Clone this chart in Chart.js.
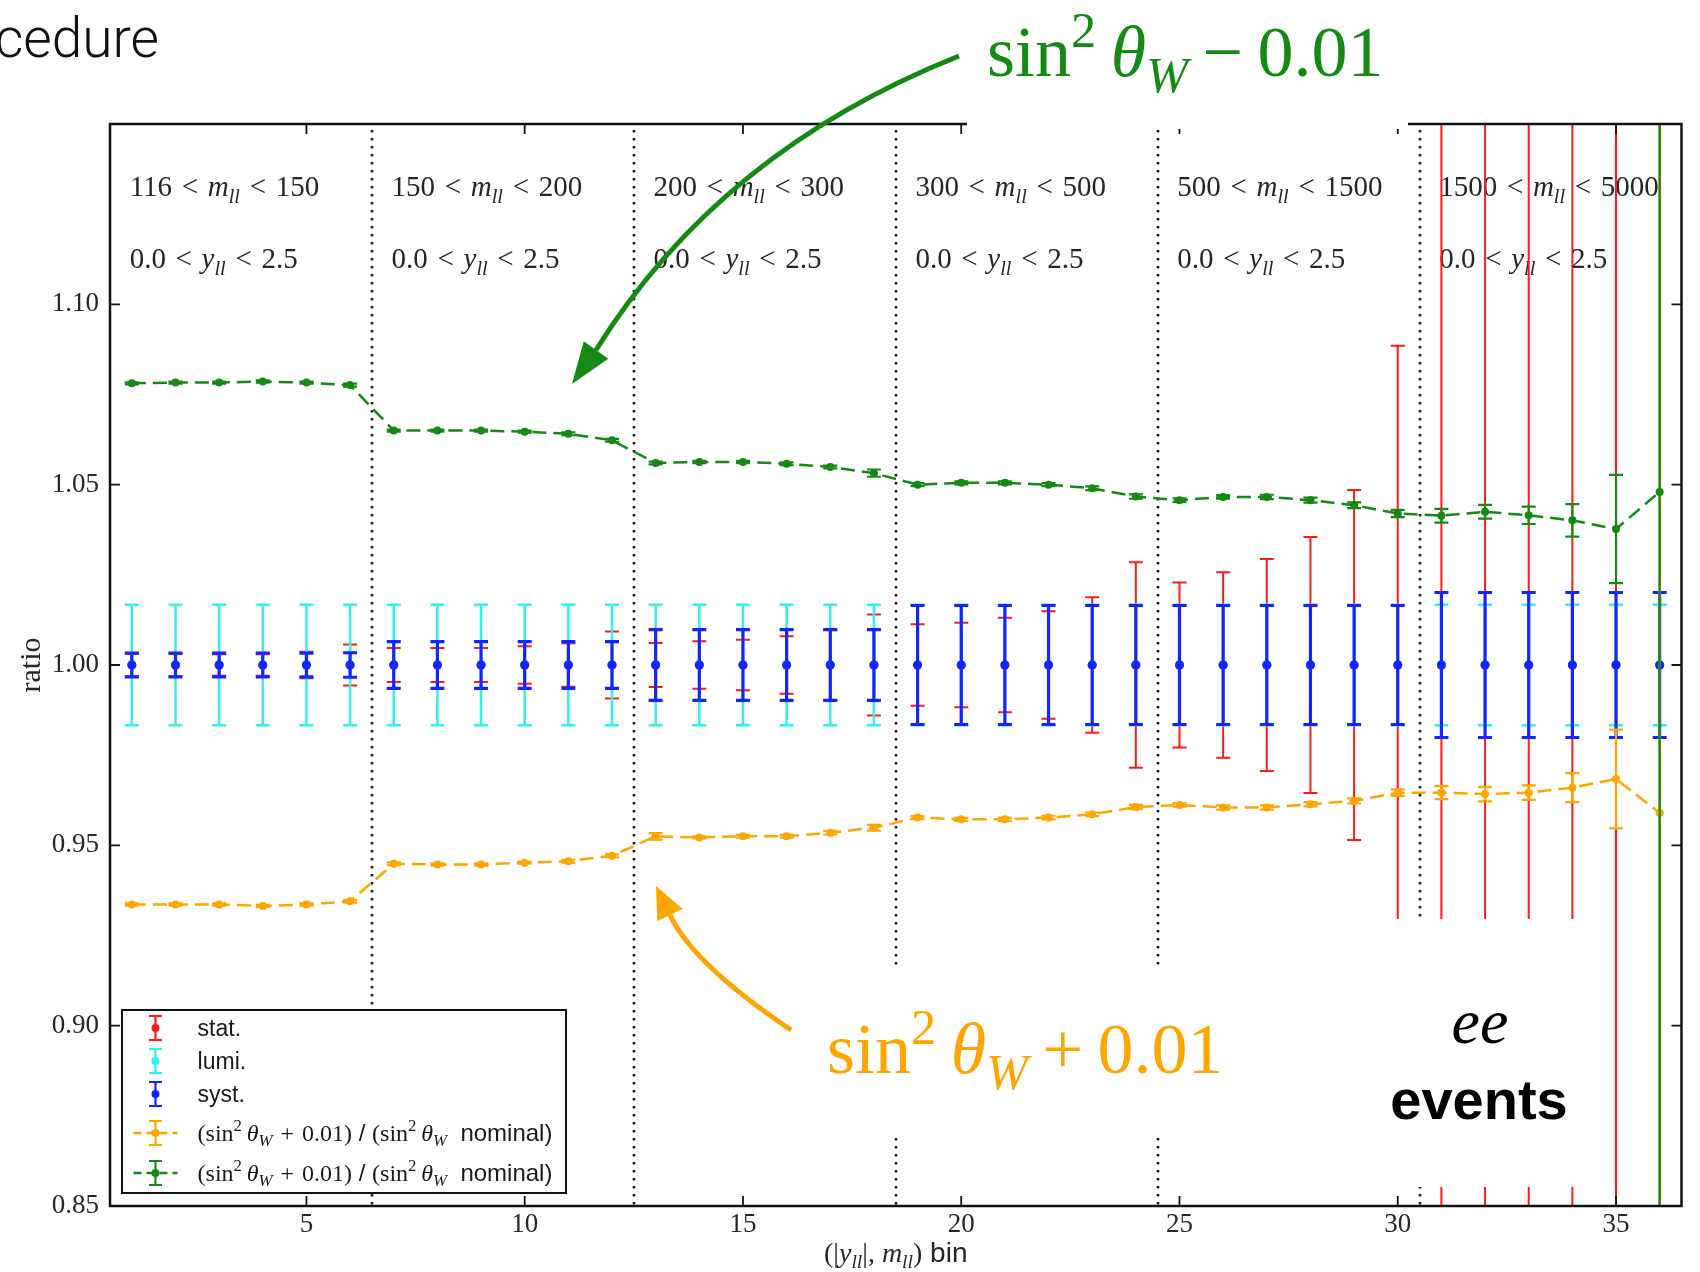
<!DOCTYPE html>
<html>
<head>
<meta charset="utf-8">
<title>ratio por bin (|yll|, mll)</title>
<script src="https://cdn.jsdelivr.net/npm/chart.js@4.4.1/dist/chart.umd.min.js"></script>
<style>
  html, body { margin: 0; padding: 0; background: #fff; }
  #wrap { width: 1700px; height: 1272px; }
</style>
</head>
<body>
<div id="wrap"><canvas id="chart" width="1700" height="1272"></canvas></div>
<script>
// --- Datos ---
const bins = [1, 2, 3, 4, 5, 6, 7, 8, 9, 10, 11, 12, 13, 14, 15, 16, 17, 18,
              19, 20, 21, 22, 23, 24, 25, 26, 27, 28, 29, 30, 31, 32, 33, 34, 35, 36];
const nominal = [1, 1, 1, 1, 1, 1, 1, 1, 1, 1, 1, 1, 1, 1, 1, 1, 1, 1,
                 1, 1, 1, 1, 1, 1, 1, 1, 1, 1, 1, 1, 1, 1, 1, 1, 1, 1];
const statErr = [0.0031, 0.0031, 0.0030, 0.0030, 0.0037, 0.0057,
                 0.0047, 0.0047, 0.0047, 0.0052, 0.0060, 0.0093,
                 0.0061, 0.0066, 0.0070, 0.0080, 0.0097, 0.0140,
                 0.0113, 0.0117, 0.0131, 0.0149, 0.0188, 0.0285,
                 0.0229, 0.0257, 0.0294, 0.0355, 0.0485, 0.0885,
                 0.30, 0.30, 0.30, 0.30, 0.30, 0.30];
const lumiErr = [0.0167, 0.0167, 0.0167, 0.0167, 0.0167, 0.0167,
                 0.0167, 0.0167, 0.0167, 0.0167, 0.0167, 0.0167,
                 0.0167, 0.0167, 0.0167, 0.0167, 0.0167, 0.0167,
                 0.0167, 0.0167, 0.0167, 0.0167, 0.0167, 0.0167,
                 0.0167, 0.0167, 0.0167, 0.0167, 0.0167, 0.0167,
                 0.0167, 0.0167, 0.0167, 0.0167, 0.0167, 0.0167];
const systErr = [0.0033, 0.0033, 0.0033, 0.0033, 0.0033, 0.0034,
                 0.0065, 0.0065, 0.0065, 0.0065, 0.0065, 0.0065,
                 0.0098, 0.0098, 0.0098, 0.0098, 0.0098, 0.0098,
                 0.0165, 0.0165, 0.0165, 0.0165, 0.0165, 0.0165,
                 0.0165, 0.0165, 0.0165, 0.0165, 0.0165, 0.0165,
                 0.0201, 0.0201, 0.0201, 0.0201, 0.0201, 0.0201];
// sin^2 thetaW + 0.01 (naranja)
const plusRatio = [0.9336, 0.9336, 0.9336, 0.9332, 0.9336, 0.9345,
                   0.9449, 0.9447, 0.9447, 0.9452, 0.9456, 0.9471,
                   0.9525, 0.9522, 0.9525, 0.9525, 0.9535, 0.9549,
                   0.9577, 0.9572, 0.9572, 0.9577, 0.9586, 0.9606,
                   0.9612, 0.9605, 0.9605, 0.9614, 0.9623, 0.9646,
                   0.9646, 0.9642, 0.9646, 0.9660, 0.9684, 0.9590];
const plusErr = [0.0003, 0.0003, 0.0003, 0.0003, 0.0003, 0.0004,
                 0.0004, 0.0003, 0.0003, 0.0003, 0.0004, 0.0004,
                 0.0009, 0.0003, 0.0004, 0.0004, 0.0005, 0.0008,
                 0.0004, 0.0004, 0.0004, 0.0005, 0.0005, 0.0006,
                 0.0005, 0.0006, 0.0006, 0.0006, 0.0007, 0.0009,
                 0.0018, 0.0020, 0.0020, 0.0040, 0.0137, 0.30];
// sin^2 thetaW - 0.01 (verde)
const minusRatio = [1.0781, 1.0783, 1.0783, 1.0786, 1.0783, 1.0776,
                    1.0650, 1.0650, 1.0650, 1.0647, 1.0641, 1.0623,
                    1.0560, 1.0563, 1.0563, 1.0558, 1.0549, 1.0532,
                    1.0500, 1.0505, 1.0505, 1.0500, 1.0490, 1.0467,
                    1.0457, 1.0466, 1.0466, 1.0457, 1.0443, 1.0420,
                    1.0414, 1.0425, 1.0415, 1.0401, 1.0377, 1.0480];
const minusErr = [0.0003, 0.0003, 0.0003, 0.0003, 0.0003, 0.0004,
                  0.0003, 0.0003, 0.0003, 0.0003, 0.0004, 0.0004,
                  0.0004, 0.0003, 0.0003, 0.0004, 0.0004, 0.0010,
                  0.0004, 0.0004, 0.0004, 0.0004, 0.0005, 0.0006,
                  0.0005, 0.0005, 0.0006, 0.0007, 0.0008, 0.0010,
                  0.0019, 0.0019, 0.0024, 0.0045, 0.0150, 0.30];
const xTicks = [5, 10, 15, 20, 25, 30, 35];
const yTicks = [0.85, 0.90, 0.95, 1.00, 1.05, 1.10];
const regionEdges = [6.5, 12.5, 18.5, 24.5, 30.5];
const regionStarts = [1, 7, 13, 19, 25, 31];
const massRanges = [['116', '150'], ['150', '200'], ['200', '300'],
                    ['300', '500'], ['500', '1500'], ['1500', '5000']];
const rapRange = ['0.0', '2.5'];

// --- Estilos ---
const SERIF = '"Liberation Serif", "Times New Roman", serif';
const SANS = '"Liberation Sans", Arial, sans-serif';
const RED = '#ff1a1a', CYAN = '#30f0f0', BLUE = '#1424ff', ORANGE = '#ffa500', GREEN = '#148a14';
const REL = '\u2004<\u2004';

// texto con cursiva / subíndice / superíndice
function partFont(st, size) {
    const small = st.includes('b') || st.includes('p');
    const sz = small ? size * 0.7 : size;
    return (st.includes('i') ? 'italic ' : '') + (st.includes('B') ? 'bold ' : '') +
        sz.toFixed(1) + 'px ' + (st.includes('s') ? SANS : SERIF);
}

function drawRich(ctx, parts, x, y, size, align) {
    let w = 0;
    parts.forEach(([t, st = '']) => { ctx.font = partFont(st, size); w += ctx.measureText(t).width; });
    let cx = align === 'center' ? x - w / 2 : align === 'right' ? x - w : x;
    ctx.textAlign = 'left';
    ctx.textBaseline = 'alphabetic';
    parts.forEach(([t, st = '']) => {
        ctx.font = partFont(st, size);
        const dy = st.includes('b') ? size * 0.22 : st.includes('p') ? -size * 0.4 : 0;
        ctx.fillText(t, cx, y + dy);
        cx += ctx.measureText(t).width;
    });
}

function pts(ys) { return bins.map((b, i) => ({ x: b, y: ys[i] })); }

function drawErrors(chart, ds) {
    const { ctx, chartArea: a } = chart;
    const sx = chart.scales.x, sy = chart.scales.y;
    const ys = ds.data;
    ctx.save();
    ctx.beginPath();
    ctx.rect(a.left, a.top, a.right - a.left, a.bottom - a.top);
    ctx.clip();
    ctx.strokeStyle = ds.errColor;
    ctx.lineWidth = ds.errWidth;
    ds.errors.forEach((e, i) => {
        const px = sx.getPixelForValue(ys[i].x);
        const top = sy.getPixelForValue(ys[i].y + e);
        const bot = sy.getPixelForValue(ys[i].y - e);
        ctx.beginPath();
        ctx.moveTo(px, top); ctx.lineTo(px, bot);
        ctx.moveTo(px - 7, top); ctx.lineTo(px + 7, top);
        ctx.moveTo(px - 7, bot); ctx.lineTo(px + 7, bot);
        ctx.stroke();
    });
    ctx.restore();
}

function drawArrow(ctx, a) {
    ctx.save();
    ctx.strokeStyle = a.color;
    ctx.fillStyle = a.color;
    ctx.lineWidth = a.width;
    ctx.beginPath();
    ctx.moveTo(a.from[0], a.from[1]);
    ctx.quadraticCurveTo(a.ctrl[0], a.ctrl[1], a.base[0], a.base[1]);
    ctx.stroke();
    const dx = a.tip[0] - a.base[0], dy = a.tip[1] - a.base[1], L = Math.hypot(dx, dy);
    const nx = -dy / L, ny = dx / L;
    ctx.beginPath();
    ctx.moveTo(a.tip[0], a.tip[1]);
    ctx.lineTo(a.base[0] + nx * a.head, a.base[1] + ny * a.head);
    ctx.lineTo(a.base[0] - nx * a.head, a.base[1] - ny * a.head);
    ctx.closePath();
    ctx.fill();
    ctx.restore();
}

const mathLabel = [['('], ['sin'], ['2', 'p'], ['\u2009θ', 'i'], ['W', 'ib'], ['\u2004+\u20040.01)'],
                   [' / ', 's'], ['('], ['sin'], ['2', 'p'], ['\u2009θ', 'i'], ['W', 'ib'], ['  nominal)', 's']];

const ratioPlugin = {
    id: 'ratioPlugin',
    beforeDatasetsDraw(chart) {
        const { ctx, chartArea: a } = chart;
        const sx = chart.scales.x, sy = chart.scales.y;
        // separadores de regiones
        ctx.save();
        ctx.strokeStyle = '#1e1e1e';
        ctx.lineWidth = 2.6;
        ctx.setLineDash([2.6, 5.4]);
        regionEdges.forEach(v => {
            const px = Math.round(sx.getPixelForValue(v));
            ctx.beginPath();
            ctx.moveTo(px, a.top + 6);
            ctx.lineTo(px, a.bottom);
            ctx.stroke();
        });
        ctx.restore();
        // etiquetas de cada región
        ctx.save();
        ctx.fillStyle = '#262626';
        regionStarts.forEach((s, k) => {
            const px = sx.getPixelForValue(s - 0.05);
            drawRich(ctx, [[massRanges[k][0] + REL], ['m', 'i'], ['ll', 'ib'], [REL + massRanges[k][1]]],
                px, sy.getPixelForValue(1.13), 29, 'left');
            drawRich(ctx, [[rapRange[0] + REL], ['y', 'i'], ['ll', 'ib'], [REL + rapRange[1]]],
                px, sy.getPixelForValue(1.11), 29, 'left');
        });
        ctx.restore();
    },
    beforeDatasetDraw(chart, args) {
        const ds = chart.data.datasets[args.index];
        if (ds.errors) drawErrors(chart, ds);
    },
    afterDatasetsDraw(chart) {
        const { ctx, chartArea: a } = chart;
        const sx = chart.scales.x, sy = chart.scales.y;
        ctx.save();
        ctx.strokeStyle = '#111';
        ctx.lineWidth = 2.5;
        ctx.strokeRect(a.left, a.top, a.right - a.left, a.bottom - a.top);
        ctx.lineWidth = 1.8;
        ctx.beginPath();
        xTicks.forEach(v => {
            const px = sx.getPixelForValue(v);
            ctx.moveTo(px, a.bottom); ctx.lineTo(px, a.bottom - 10);
            ctx.moveTo(px, a.top); ctx.lineTo(px, a.top + 10);
        });
        yTicks.forEach(v => {
            const py = sy.getPixelForValue(v);
            ctx.moveTo(a.left, py); ctx.lineTo(a.left + 10, py);
            ctx.moveTo(a.right, py); ctx.lineTo(a.right - 10, py);
        });
        ctx.stroke();
        ctx.restore();
    },
    afterDraw(chart) {
        const { ctx, chartArea: a } = chart;
        ctx.save();
        // cajas blancas de la diapositiva
        ctx.fillStyle = '#fff';
        ctx.fillRect(967, 0, 441, 129);
        ctx.fillRect(770, 970, 470, 166);
        ctx.fillRect(1376, 919, 222, 268);

        // títulos de ejes
        ctx.fillStyle = '#262626';
        ctx.save();
        ctx.translate(40, 665);
        ctx.rotate(-Math.PI / 2);
        ctx.font = '30px ' + SERIF;
        ctx.textAlign = 'center';
        ctx.textBaseline = 'alphabetic';
        ctx.fillText('ratio', 0, 0);
        ctx.restore();
        drawRich(ctx, [['(|'], ['y', 'i'], ['ll', 'ib'], ['|, '], ['m', 'i'], ['ll', 'ib'], [')'], [' bin', 's']],
            (a.left + a.right) / 2, 1262, 28, 'center');

        // leyenda
        const bx = a.left + 12, by = a.bottom - 196, bw = 444, bh = 183;
        ctx.fillStyle = '#fff';
        ctx.fillRect(bx, by, bw, bh);
        ctx.strokeStyle = '#111';
        ctx.lineWidth = 2;
        ctx.strokeRect(bx, by, bw, bh);
        const rows = [18, 51, 84, 123, 163];
        const cx = bx + 33.5;
        chart.data.datasets.forEach((ds, i) => {
            const cy = by + rows[i];
            ctx.strokeStyle = ds.errColor;
            if (ds.showLine !== false) {
                ctx.save();
                ctx.setLineDash([8, 5]);
                ctx.lineWidth = 2.5;
                ctx.beginPath();
                ctx.moveTo(cx - 22, cy); ctx.lineTo(cx + 22, cy);
                ctx.stroke();
                ctx.restore();
            }
            ctx.lineWidth = 2.2;
            ctx.beginPath();
            ctx.moveTo(cx, cy - 12); ctx.lineTo(cx, cy + 12);
            ctx.moveTo(cx - 6.5, cy - 12); ctx.lineTo(cx + 6.5, cy - 12);
            ctx.moveTo(cx - 6.5, cy + 12); ctx.lineTo(cx + 6.5, cy + 12);
            ctx.stroke();
            ctx.fillStyle = ds.errColor;
            ctx.beginPath();
            ctx.arc(cx, cy, 4, 0, Math.PI * 2);
            ctx.fill();
            ctx.fillStyle = '#1a1a1a';
            if (ds.showLine === false) {
                ctx.font = '23px ' + SANS;
                ctx.textAlign = 'left';
                ctx.textBaseline = 'alphabetic';
                ctx.fillText(ds.label, bx + 75.6, cy + 8);
            } else {
                drawRich(ctx, mathLabel, bx + 75.6, cy + 8, 24, 'left');
            }
        });

        // anotaciones de la diapositiva
        ctx.fillStyle = '#111';
        ctx.font = '300 55px Roboto, ' + SANS;
        ctx.textAlign = 'right';
        ctx.textBaseline = 'alphabetic';
        ctx.fillText('cedure', 159, 57);

        ctx.fillStyle = GREEN;
        drawRich(ctx, [['sin'], ['2', 'p'], ['\u2009θ', 'i'], ['W', 'ib'], ['\u2009\u2212\u20090.01']], 987, 76, 72, 'left');
        ctx.fillStyle = ORANGE;
        drawRich(ctx, [['sin'], ['2', 'p'], ['\u2009θ', 'i'], ['W', 'ib'], ['\u2009+\u20090.01']], 827, 1073, 72, 'left');

        ctx.fillStyle = '#000';
        ctx.font = 'italic 64px ' + SERIF;
        ctx.textAlign = 'center';
        ctx.fillText('ee', 1480, 1043);
        ctx.font = 'bold 56px ' + SANS;
        ctx.fillText('events', 1479, 1119);

        drawArrow(ctx, { color: GREEN, width: 5, from: [959, 56], ctrl: [720, 151], base: [596, 350], tip: [572, 384], head: 15 });
        drawArrow(ctx, { color: ORANGE, width: 5, from: [791, 1030], ctrl: [693, 964], base: [670, 915], tip: [656, 886], head: 14 });
        ctx.restore();
    }
};

const datasets = [
    { label: 'stat.', data: pts(nominal), errors: statErr, errColor: RED, errWidth: 2,
      showLine: false, pointRadius: 4.5, pointBackgroundColor: RED, pointBorderWidth: 0, order: 4 },
    { label: 'lumi.', data: pts(nominal), errors: lumiErr, errColor: CYAN, errWidth: 2.5,
      showLine: false, pointRadius: 4.5, pointBackgroundColor: CYAN, pointBorderWidth: 0, order: 3 },
    { label: 'syst.', data: pts(nominal), errors: systErr, errColor: BLUE, errWidth: 3.2,
      showLine: false, pointRadius: 4.5, pointBackgroundColor: BLUE, pointBorderWidth: 0, order: 2 },
    { label: '(sin² θW + 0.01) / (sin² θW nominal)', data: pts(plusRatio), errors: plusErr, errColor: ORANGE, errWidth: 2.2,
      borderColor: ORANGE, borderWidth: 2.5, borderDash: [14, 7], tension: 0,
      pointRadius: 4, pointBackgroundColor: ORANGE, pointBorderWidth: 0, order: 1 },
    { label: '(sin² θW + 0.01) / (sin² θW nominal)', data: pts(minusRatio), errors: minusErr, errColor: GREEN, errWidth: 2.2,
      borderColor: GREEN, borderWidth: 2.5, borderDash: [14, 7], tension: 0,
      pointRadius: 4, pointBackgroundColor: GREEN, pointBorderWidth: 0, order: 0 }
];

new Chart(document.getElementById('chart'), {
    type: 'line',
    data: { datasets },
    options: {
        responsive: false,
        animation: false,
        devicePixelRatio: 1,
        events: [],
        layout: { padding: { left: 0, top: 124, right: 18.5, bottom: 0 } },
        plugins: { legend: { display: false }, tooltip: { enabled: false } },
        scales: {
            x: {
                type: 'linear', min: 0.5, max: 36.5,
                afterFit: s => { s.height = 66; },
                afterBuildTicks: s => { s.ticks = xTicks.map(v => ({ value: v })); },
                grid: { display: false },
                border: { display: false },
                ticks: { color: '#262626', padding: -5, maxRotation: 0, autoSkip: false,
                         font: { family: 'Liberation Serif', size: 27 }, callback: v => String(v) }
            },
            y: {
                type: 'linear', min: 0.85, max: 1.15,
                afterFit: s => { s.width = 110; },
                afterBuildTicks: s => { s.ticks = yTicks.map(v => ({ value: v })); },
                grid: { display: false },
                border: { display: false },
                ticks: { color: '#262626', padding: 3, autoSkip: false,
                         font: { family: 'Liberation Serif', size: 27 }, callback: v => v.toFixed(2) }
            }
        }
    },
    plugins: [ratioPlugin]
});
</script>
</body>
</html>
